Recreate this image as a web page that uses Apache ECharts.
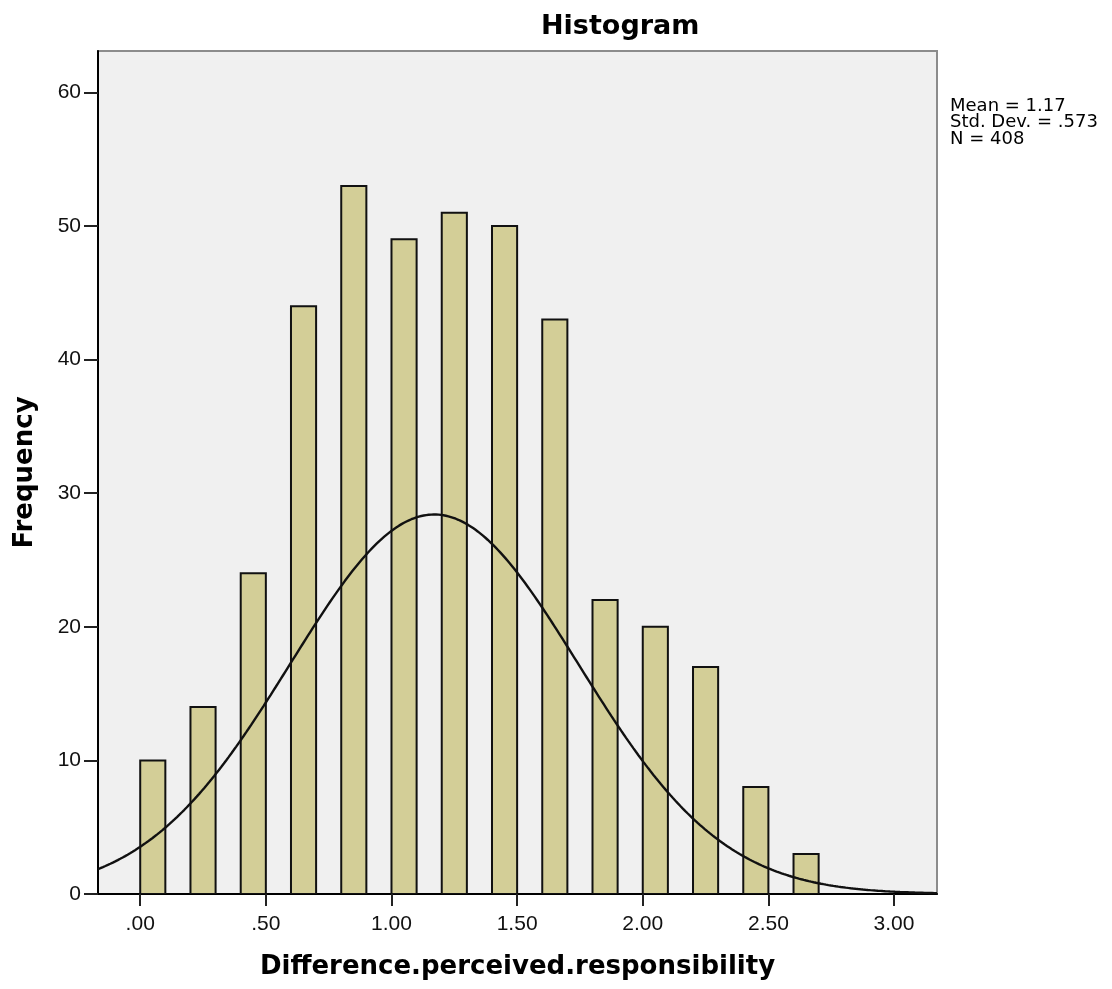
<!DOCTYPE html>
<html>
<head>
<meta charset="utf-8">
<script src="https://cdn.jsdelivr.net/npm/echarts@6/dist/echarts.min.js"></script>
<style>
html,body{margin:0;padding:0;background:#fff;}
#chart{width:1112px;height:989px;}
</style>
</head>
<body>
<div id="chart"></div>
<script>
// ---- data ----
const binStarts = [0.0, 0.2, 0.4, 0.6, 0.8, 1.0, 1.2, 1.4, 1.6, 1.8, 2.0, 2.2, 2.4, 2.6];
const frequencies = [10, 14, 24, 44, 53, 49, 51, 50, 43, 22, 20, 17, 8, 3];
const binWidth = 0.1;
const xTickValues = [0, 0.5, 1, 1.5, 2, 2.5, 3];
const xTickLabels = ['.00', '.50', '1.00', '1.50', '2.00', '2.50', '3.00'];
const yTickValues = [0, 10, 20, 30, 40, 50, 60];
const statMean = 1.17;
const statSD = 0.573;
const statN = 408;
const statLines = ['Mean = 1.17', 'Std. Dev. = .573', 'N = 408'];
const xMin = -0.168, xMax = 3.171, yMin = 0, yMax = 63.1;

// fitted normal curve defined by the displayed statistics
const curveX = [];
for (let i = 0; i <= 340; i++) curveX.push(xMin + (xMax - xMin) * i / 340);
const curveData = curveX.map(x => {
  const z = (x - statMean) / statSD;
  return [x, statN * binWidth * Math.exp(-0.5 * z * z) / (statSD * Math.sqrt(2 * Math.PI))];
});

const barData = binStarts.map((s, i) => [s, s + binWidth, frequencies[i]]);

const chart = echarts.init(document.getElementById('chart'), null, {renderer: 'canvas'});
chart.setOption({
  animation: false,
  backgroundColor: '#ffffff',
  title: {
    text: 'Histogram',
    left: 536, top: 8,
    textStyle: {fontFamily: 'DejaVu Sans', fontWeight: 'bold', fontSize: 27, color: '#000'}
  },
  graphic: [{
    type: 'text',
    left: 950, top: 97,
    style: {
      text: statLines.join('\n'),
      font: '18px "DejaVu Sans"',
      lineHeight: 16.5,
      fill: '#000'
    }
  }],
  grid: {
    left: 98, right: 175, top: 51, bottom: 95,
    show: true, backgroundColor: '#f0f0f0', borderColor: '#8c8c8c', borderWidth: 2
  },
  xAxis: {
    type: 'value', min: xMin, max: xMax,
    name: 'Difference.perceived.responsibility',
    nameLocation: 'middle', nameGap: 60,
    nameTextStyle: {fontFamily: 'DejaVu Sans', fontWeight: 'bold', fontSize: 26, color: '#000'},
    axisLine: {show: true, onZero: false, lineStyle: {color: '#000', width: 2}},
    axisTick: {show: true, inside: false, length: 12, customValues: xTickValues, lineStyle: {color: '#222', width: 2}},
    axisLabel: {
      customValues: xTickValues, margin: 20,
      fontFamily: 'Liberation Sans', fontSize: 21, color: '#111',
      formatter: v => { const i = xTickValues.findIndex(t => Math.abs(t - v) < 1e-6); return i >= 0 ? xTickLabels[i] : ''; }
    },
    splitLine: {show: false}
  },
  yAxis: {
    type: 'value', min: yMin, max: yMax,
    name: 'Frequency',
    nameLocation: 'middle', nameGap: 60, nameRotate: 90,
    nameTextStyle: {fontFamily: 'DejaVu Sans', fontWeight: 'bold', fontSize: 26, color: '#000'},
    axisLine: {show: true, onZero: false, lineStyle: {color: '#000', width: 2}},
    axisTick: {show: true, inside: false, length: 14, customValues: yTickValues, lineStyle: {color: '#222', width: 2}},
    axisLabel: {
      customValues: yTickValues, margin: 17,
      fontFamily: 'Liberation Sans', fontSize: 21, color: '#111',
      formatter: v => String(Math.round(v))
    },
    splitLine: {show: false}
  },
  series: [{
    type: 'custom',
    data: barData,
    encode: {x: [0, 1], y: 2},
    clip: true,
    renderItem: function (params, api) {
      const p0 = api.coord([api.value(0), api.value(2)]);
      const p1 = api.coord([api.value(1), 0]);
      return {
        type: 'rect',
        shape: {x: p0[0], y: p0[1], width: p1[0] - p0[0], height: p1[1] - p0[1]},
        style: {fill: '#d3ce97', stroke: '#111', lineWidth: 2}
      };
    }
  }, {
    type: 'line',
    data: curveData,
    showSymbol: false,
    symbol: 'none',
    smooth: false,
    clip: true,
    lineStyle: {color: '#111', width: 2.4},
    z: 5
  }]
});
</script>
</body>
</html>
